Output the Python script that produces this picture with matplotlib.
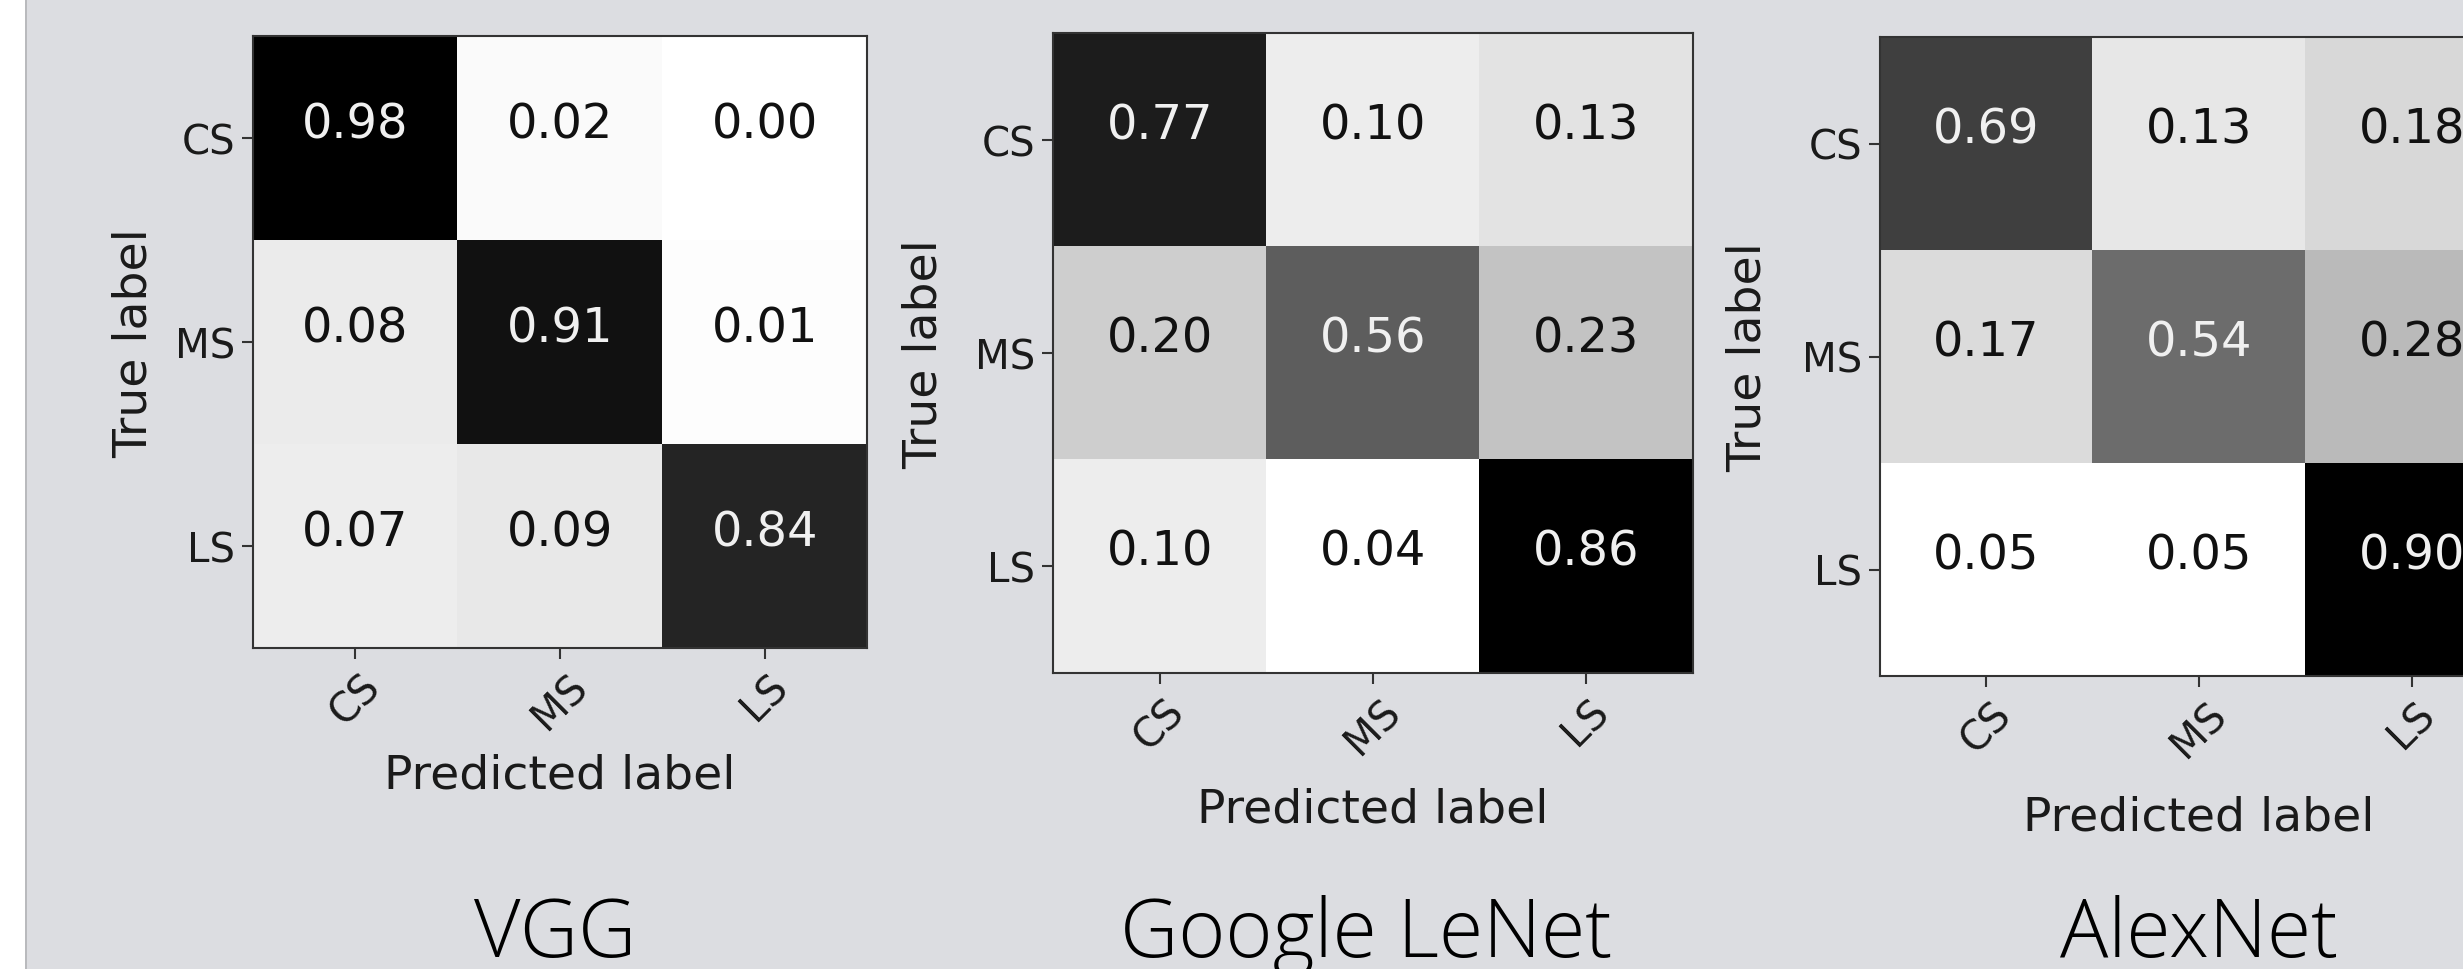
import numpy as np
import matplotlib
matplotlib.use("Agg")
import matplotlib.pyplot as plt
from matplotlib.patches import Rectangle

W, H = 2463, 970

classes = ["CS", "MS", "LS"]
models = ["VGG", "Google LeNet", "AlexNet"]

vgg_cm = np.array([[0.98, 0.02, 0.00],
                   [0.08, 0.91, 0.01],
                   [0.07, 0.09, 0.84]])
lenet_cm = np.array([[0.77, 0.10, 0.13],
                     [0.20, 0.56, 0.23],
                     [0.10, 0.04, 0.86]])
alexnet_cm = np.array([[0.69, 0.13, 0.18],
                       [0.17, 0.54, 0.28],
                       [0.05, 0.05, 0.90]])
matrices = [vgg_cm, lenet_cm, alexnet_cm]

# pixel boxes of each heatmap (left, top, right, bottom) and title centres
boxes = [(253, 37, 867, 649), (1053, 34, 1693, 674), (1880, 38, 2518, 677)]
title_x = [555, 1366, 2199]
ylabel_off = [96, 106, 109]
xlabel_off = [129, 138, 143]

bg = "#dcdde1"
fig = plt.figure(figsize=(W / 100, H / 100), dpi=100, facecolor=bg)

# white strip on the left edge of the slide
fig.patches.append(Rectangle((0, 0), 25 / W, 1, transform=fig.transFigure,
                             facecolor="white", edgecolor="none"))
fig.patches.append(Rectangle((25 / W, 0), 2 / W, 1, transform=fig.transFigure,
                             facecolor="#b9babd", edgecolor="none"))

for cm, name, (l, t, r, b), tx, yo, xo in zip(matrices, models, boxes,
                                             title_x, ylabel_off, xlabel_off):
    ax = fig.add_axes([l / W, 1 - b / H, (r - l) / W, (b - t) / H])
    ax.imshow(cm, cmap="gray_r", interpolation="nearest", aspect="auto")
    thresh = cm.max() / 2.0
    for i in range(cm.shape[0]):
        for j in range(cm.shape[1]):
            ax.text(j, i - 0.07, f"{cm[i, j]:.2f}", ha="center", va="center",
                    fontsize=34.5,
                    color="#f0f0f0" if cm[i, j] > thresh else "#111111")
    ax.set_xticks(range(len(classes)))
    ax.set_yticks(range(len(classes)))
    ax.set_xticklabels(classes, rotation=45, fontsize=29, color="#1a1a1a")
    ax.set_yticklabels(classes, fontsize=29, color="#1a1a1a")
    ax.tick_params(length=8, width=1.5, color="#333333", pad=5)
    for s in ax.spines.values():
        s.set_color("#333333")
        s.set_linewidth(1.5)
    ax.set_ylabel("True label", fontsize=34, color="#1a1a1a")
    ax.set_xlabel("Predicted label", fontsize=34, color="#1a1a1a")
    ax.yaxis.set_label_coords(-yo / (r - l), 0.5)
    ax.xaxis.set_label_coords(0.5, -(xo - 24) / (b - t))

    fig.text(tx / W, 1 - 957 / H, name, ha="center", va="baseline",
             fontsize=58, family=["Open Sans", "DejaVu Sans"], weight="light",
             color="black")

fig.savefig("out.png", dpi=100, facecolor=bg)
